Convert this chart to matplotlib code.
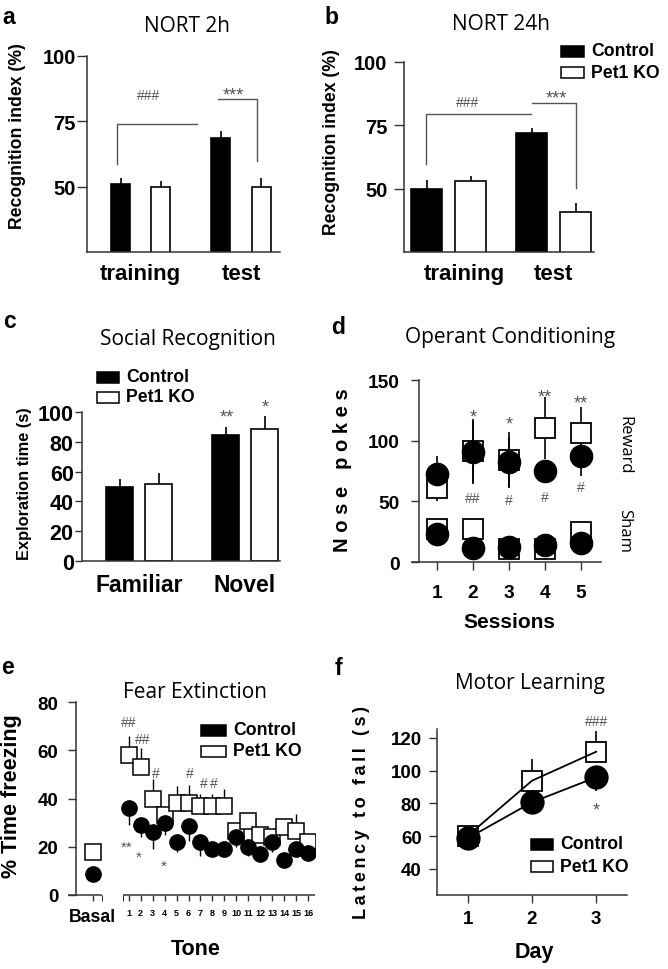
import matplotlib
matplotlib.use('Agg')
import matplotlib.pyplot as plt
import numpy as np
from matplotlib.patches import Rectangle
from matplotlib.transforms import ScaledTranslation

W, H = 668, 970
AXIS = '#333333'
NOTE = '#555555'

# a, b: novel object recognition (%)
nort_phases = ['training', 'test']
nort2h_control = [51.2, 68.8]
nort2h_control_sem = [2.2, 2.5]
nort2h_ko = [50.0, 50.0]
nort2h_ko_sem = [2.0, 3.4]
nort24h_control = [49.7, 71.8]
nort24h_control_sem = [3.6, 2.2]
nort24h_ko = [53.0, 40.9]
nort24h_ko_sem = [2.0, 3.4]

# c: social recognition (s)
social_phases = ['Familiar', 'Novel']
social_control = [49.7, 84.5]
social_control_sem = [5.4, 5.2]
social_ko = [52.0, 88.6]
social_ko_sem = [6.8, 8.4]

# d: operant conditioning, nose pokes
sessions = [1, 2, 3, 4, 5]
reward_control = [72.5, 90.5, 82.5, 75.0, 87.5]
reward_control_sem = [15.0, 26.0, 20.5, 9.0, 16.5]
reward_ko = [61.0, 91.5, 84.0, 110.5, 106.5]
reward_ko_sem = [10.5, 26.5, 23.0, 25.5, 21.5]
sham_control = [23.0, 11.5, 12.5, 14.0, 16.0]
sham_ko = [27.0, 27.0, 11.0, 11.0, 24.5]
reward_stars = ['', '*', '*', '**', '**']
reward_hashes = ['', '##', '#', '#', '#']

# e: fear extinction (% time freezing)
tones = list(range(1, 17))
basal_control = 8.7
basal_ko = 17.8
fear_control = [36, 29, 26, 30, 22, 28.5, 22, 19, 19, 24, 20, 17, 22, 14.5, 19, 17.5]
fear_control_sem = [7, 5, 7, 5, 4, 6, 6, 3, 3, 4, 4, 3, 4, 3, 3, 3]
fear_ko = [58, 53, 40, 33, 38, 38, 37, 37, 37, 26.5, 30.5, 25, 24, 28, 26.5, 22]
fear_ko_sem = [7.8, 8, 8, 3, 7, 7.5, 5, 5, 7, 3.5, 3.5, 3, 3, 4, 7, 3]

# f: motor learning, latency to fall (s)
days = [1, 2, 3]
motor_control = [58.7, 80.7, 96.0]
motor_control_sem = [2.0, 3.0, 8.2]
motor_ko = [60.3, 93.9, 111.6]
motor_ko_sem = [3.0, 13.3, 12.9]

plt.rcParams['font.family'] = ['Liberation Sans', 'DejaVu Sans']
plt.rcParams['font.weight'] = 'bold'
TITLE_FONT = ['Open Sans', 'DejaVu Sans']

fig = plt.figure(figsize=(W / 100, H / 100), dpi=100)


def box(x0, y0, x1, y1):
    return [x0 / W, 1 - y1 / H, (x1 - x0) / W, (y1 - y0) / H]


def put(x, y, s, **kw):
    kw.setdefault('ha', 'center')
    kw.setdefault('va', 'center')
    return fig.text(x / W, 1 - y / H, s, **kw)


def key(x, y, w, label, filled):
    fig.add_artist(Rectangle((x / W, 1 - (y + 5.5) / H), w / W, 11 / H,
                             transform=fig.transFigure, lw=1.1,
                             facecolor='black' if filled else 'white',
                             edgecolor='black'))
    put(x + w + 7, y, label, ha='left', fontsize=12.7)


def mark(ax, x, y, s, size=13):
    # visual centre of the * / # glyphs lands on (x, y)
    lift = 0.58 if '*' in s else 0.36
    ax.annotate(s, (x, y), xytext=(0, -lift * size), textcoords='offset points',
                ha='center', va='baseline', fontsize=size, color=NOTE,
                fontweight='normal', annotation_clip=False)


def title(x, y, s):
    put(x, y, s, family=TITLE_FONT, fontweight='normal', fontsize=15)


def frame(ax, ticklen=5, pad=2):
    for side in ('top', 'right'):
        ax.spines[side].set_visible(False)
    for side in ('left', 'bottom'):
        ax.spines[side].set_linewidth(1.1)
        ax.spines[side].set_color(AXIS)
    ax.tick_params(color=AXIS, width=1.0, length=ticklen, pad=pad)


def bars(ax, ctrl, ctrl_sem, ko, ko_sem, off, width):
    x = np.arange(len(ctrl))
    for xs, vals, sem, fc in ((x - off, ctrl, ctrl_sem, 'black'),
                              (x + off, ko, ko_sem, 'white')):
        ax.bar(xs, vals, width, color=fc, edgecolor='black', linewidth=1.2, zorder=2)
        ax.errorbar(xs, vals, yerr=[np.zeros(len(vals)), sem], fmt='none',
                    ecolor='black', elinewidth=1.2, capsize=0, zorder=1)


# ---- a
ax = fig.add_axes(box(87, 57, 280, 253))
frame(ax, ticklen=7, pad=1)
bars(ax, nort2h_control, nort2h_control_sem, nort2h_ko, nort2h_ko_sem, 0.2, 0.19)
ax.set_xlim(-0.536, 1.389)
ax.set_ylim(25, 100)
ax.set_yticks([50, 75, 100])
ax.set_xticks([0, 1], nort_phases)
ax.tick_params(axis='y', labelsize=14.5)
ax.tick_params(axis='x', length=0, pad=8, labelsize=16)
ax.plot([-0.24, -0.24, 0.558], [58.5, 73.8, 73.8], color=NOTE, lw=1)
ax.plot([0.774, 1.157, 1.157], [83.5, 83.5, 59.7], color=NOTE, lw=1)
mark(ax, 0.08, 85.4, '###', 10)
mark(ax, 0.92, 87.3, '***', 13)
title(187, 27, 'NORT 2h')
put(18, 136, 'Recognition index (%)', rotation=90, fontsize=12.7)
put(9, 18, 'a', fontsize=16.5)

# ---- b
ax = fig.add_axes(box(404, 63, 594, 253))
frame(ax, ticklen=7, pad=5)
bars(ax, nort24h_control, nort24h_control_sem, nort24h_ko, nort24h_ko_sem, 0.209, 0.295)
ax.set_xlim(-0.423, 1.382)
ax.set_ylim(25, 100)
ax.set_yticks([50, 75, 100])
ax.set_xticks([0, 1], nort_phases)
ax.tick_params(axis='y', labelsize=14.5)
ax.tick_params(axis='x', length=0, pad=8, labelsize=16)
lab = ax.get_xticklabels()[0]
lab.set_transform(lab.get_transform() + ScaledTranslation(0.16, 0, fig.dpi_scale_trans))
ax.plot([-0.214, -0.214, 0.78], [59.6, 79.5, 79.5], color=NOTE, lw=1)
ax.plot([0.796, 1.208, 1.208], [83.7, 83.7, 50.4], color=NOTE, lw=1)
mark(ax, 0.18, 84.8, '###', 10)
mark(ax, 1.02, 88.1, '***', 13)
title(501, 25, 'NORT 24h')
put(331, 142, 'Recognition index (%)', rotation=90, fontsize=12.7)
put(331, 17, 'b', fontsize=16.5)
key(561, 52, 23, 'Control', True)
key(561, 73, 23, 'Pet1 KO', False)

# ---- c
ax = fig.add_axes(box(82, 413, 280, 562))
frame(ax, ticklen=5, pad=1)
bars(ax, social_control, social_control_sem, social_ko, social_ko_sem, 0.184, 0.255)
ax.set_xlim(-0.538, 1.33)
ax.set_ylim(0, 100)
ax.set_yticks(range(0, 101, 20))
ax.set_xticks([0, 1], social_phases)
ax.tick_params(axis='y', labelsize=15.5)
ax.tick_params(axis='x', length=0, pad=9, labelsize=16.5)
mark(ax, 0.83, 100.9, '**', 13)
mark(ax, 1.19, 107.6, '*', 13)
title(188, 340, 'Social Recognition')
put(25, 484, 'Exploration time (s)', rotation=90, fontsize=11.8)
put(9, 322, 'c', fontsize=16.5)
key(97, 378, 22, 'Control', True)
key(97, 398, 22, 'Pet1 KO', False)

# ---- d
ax = fig.add_axes(box(412, 381, 601, 563))
frame(ax, ticklen=6, pad=8)
ax.spines['left'].set_position(('data', 0.5))
ax.set_xlim(0.306, 5.556)
ax.set_ylim(0, 150)
ax.set_yticks([0, 50, 100, 150])
ax.set_xticks(sessions)
ax.tick_params(labelsize=13.8)
ax.tick_params(axis='x', pad=10)
ax.errorbar(sessions, reward_ko, yerr=reward_ko_sem, fmt='none', ecolor='black',
            elinewidth=1.2, capsize=0, zorder=1)
ax.errorbar(sessions, reward_control, yerr=reward_control_sem, fmt='none',
            ecolor='black', elinewidth=1.2, capsize=0, zorder=1)
for ko in (reward_ko, sham_ko):
    ax.plot(sessions, ko, 's', ms=15, mfc='white', mec='black', mew=1.3,
            zorder=2, clip_on=False)
for ctrl in (reward_control, sham_control):
    ax.plot(sessions, ctrl, 'o', ms=16, color='black', zorder=3, clip_on=False)
star_y = [None, 124.7, 118.5, 141, 136]
hash_y = [None, 53.5, 52, 54.6, 63]
for s, st, hs, sy, hy in zip(sessions, reward_stars, reward_hashes, star_y, hash_y):
    if st:
        mark(ax, s, sy, st, 13)
    if hs:
        mark(ax, s, hy, hs, 10)
title(510, 338, 'Operant Conditioning')
put(509, 622, 'Sessions', fontsize=15)
put(342, 470, 'N o s e   p o k e s', rotation=90, fontsize=14.5)
put(624, 445, 'Reward', rotation=-90, family=TITLE_FONT, fontweight='normal', fontsize=12)
put(624, 531, 'Sham', rotation=-90, family=TITLE_FONT, fontweight='normal', fontsize=12)
put(338, 327, 'd', fontsize=16.5)

# ---- e
ax = fig.add_axes(box(68, 703, 315, 896))
frame(ax, ticklen=6, pad=6.5)
ax.spines['left'].set_position(('data', -3.42))
ax.spines['bottom'].set_visible(False)
ax.set_xlim(-4.08, 16.58)
ax.set_ylim(0, 80)
ax.hlines([0, 0], [-4.08, 0.5], [-1.2, 16.58], color=AXIS, lw=1.1, clip_on=False)
ax.set_yticks(range(0, 81, 20))
ax.set_xticks([-2] + tones, ['Basal'] + [str(t) for t in tones])
ax.set_xticks([-1.2, 0.5], minor=True)
ax.tick_params(axis='y', labelsize=13.5)
ax.tick_params(axis='x', which='both', length=4, pad=5, labelsize=6.5)
ax.get_xticklabels()[0].set_fontsize(12.7)
ax.errorbar(tones, fear_ko, yerr=[np.zeros(len(tones)), fear_ko_sem], fmt='none',
            ecolor='black', elinewidth=1.0, capsize=0, zorder=1)
ax.errorbar(tones, fear_control, yerr=[fear_control_sem, np.zeros(len(tones))],
            fmt='none', ecolor='black', elinewidth=1.0, capsize=0, zorder=1)
ax.plot(tones, fear_ko, 's', ms=11.5, mfc='white', mec='black', mew=1.1, zorder=2)
ax.plot([-2], [basal_ko], 's', ms=11.5, mfc='white', mec='black', mew=1.1, zorder=2)
ax.plot(tones, fear_control, 'o', ms=11, color='black', zorder=3)
ax.plot([-2], [basal_control], 'o', ms=11, color='black', zorder=3)
for x, y, s in [(1.03, 72, '##'), (2.15, 65, '##'), (3.25, 51, '#'),
                (6.15, 51, '#'), (7.3, 47, '#'), (8.1, 47, '#')]:
    mark(ax, x, y, s, 10)
for x, y, s in [(0.8, 22, '**'), (1.86, 18, '*'), (3.94, 14, '*')]:
    mark(ax, x, y, s, 11)
title(195, 692, 'Fear Extinction')
put(196, 950, 'Tone', fontsize=15.5)
put(12, 796, '% Time freezing', rotation=90, fontsize=15.5)
put(7, 668, 'e', fontsize=16.5)
key(201, 731, 25, 'Control', True)
key(201, 752, 25, 'Pet1 KO', False)

# ---- f
ax = fig.add_axes(box(437, 730, 627, 896))
frame(ax, ticklen=6, pad=5)
ax.set_xlim(0.52, 3.48)
ax.set_ylim(24, 125.5)
ax.set_yticks(range(40, 121, 20))
ax.set_xticks(days)
ax.tick_params(labelsize=13.5)
ax.errorbar(days, motor_ko, yerr=[np.zeros(3), motor_ko_sem], fmt='none',
            ecolor='black', elinewidth=1.2, capsize=0, zorder=1)
ax.errorbar(days, motor_control, yerr=[motor_control_sem, np.zeros(3)], fmt='none',
            ecolor='black', elinewidth=1.2, capsize=0, zorder=1)
ax.plot(days, motor_ko, 's', ms=15, mfc='white', mec='black', mew=1.3, zorder=2)
ax.plot(days, motor_ko, color='black', lw=1.3, zorder=3)
ax.plot(days, motor_control, color='black', lw=1.3, zorder=3)
ax.plot(days, motor_control, 'o', ms=16.5, color='black', zorder=4)
mark(ax, 3, 131.2, '###', 10)
mark(ax, 3, 79.7, '*', 13)
title(530, 683, 'Motor Learning')
put(534, 953, 'Day', fontsize=15.5)
put(362, 813, '\u2009'.join('Latency to fall (s)'), rotation=90, fontsize=13,
    family=['Liberation Sans', 'DejaVu Sans'])
put(338, 669, 'f', fontsize=16.5)
key(531, 845, 22, 'Control', True)
key(531, 867, 22, 'Pet1 KO', False)

fig.savefig('out.png', dpi=100)
